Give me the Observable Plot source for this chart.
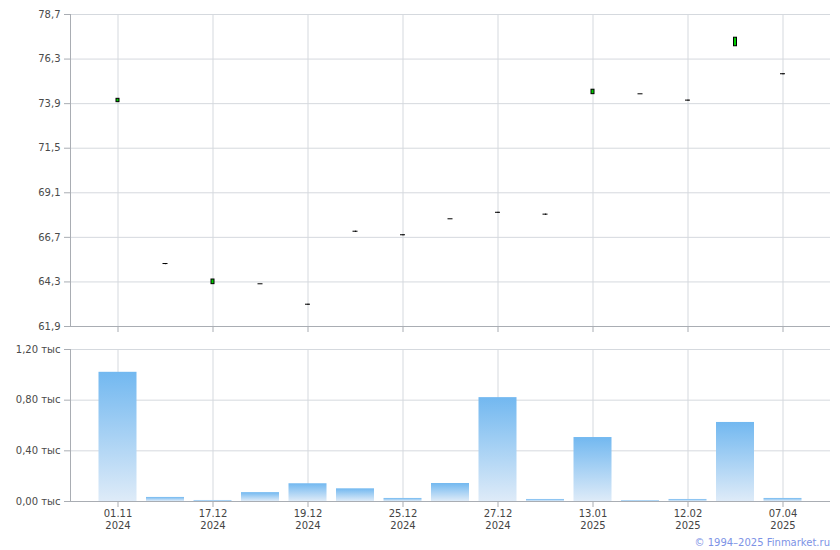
<!DOCTYPE html>
<html><head><meta charset="utf-8">
<script src="https://cdn.jsdelivr.net/npm/d3@7"></script>
<script src="https://cdn.jsdelivr.net/npm/@observablehq/plot@0.6"></script>
<style>
body{margin:0;background:#fff;}
#wrap{position:relative;width:840px;height:550px;font-family:"DejaVu Sans",sans-serif;overflow:hidden;}
#wrap svg{display:block;}
#copy{position:absolute;right:10px;top:536px;font-size:10px;line-height:14px;color:#7d93e6;}
</style></head><body><div id="wrap"><div id="copy">© 1994–2025 Finmarket.ru</div></div>
<script>
const dates = ["01.11.2024","12.12.2024","17.12.2024","18.12.2024","19.12.2024","20.12.2024","25.12.2024","26.12.2024","27.12.2024","09.01.2025","13.01.2025","27.01.2025","12.02.2025","07.03.2025","07.04.2025"];
const shownDates = ["01.11.2024","17.12.2024","19.12.2024","25.12.2024","27.12.2024","13.01.2025","12.02.2025","07.04.2025"];
const openP  = [73.98, 65.29, 64.18, 64.20, 63.10, 67.03, 66.84, 67.70, 68.05, 67.95, 74.41, 74.43, 74.09, 76.99, 75.51];
const closeP = [74.16, 65.29, 64.43, 64.20, 63.10, 67.03, 66.84, 67.70, 68.05, 67.95, 74.65, 74.43, 74.09, 77.45, 75.51];
const highP  = [74.16, 65.29, 64.43, 64.20, 63.10, 67.03, 66.84, 67.70, 68.05, 67.95, 74.65, 74.43, 74.09, 77.45, 75.51];
const lowP   = [73.98, 65.23, 64.18, 64.20, 63.04, 66.97, 66.78, 67.70, 67.99, 67.89, 74.41, 74.43, 74.03, 76.99, 75.45];
const volume = [1.02, 0.032, 0.008, 0.07, 0.14, 0.10, 0.024, 0.142, 0.82, 0.016, 0.505, 0.006, 0.016, 0.624, 0.024];
const priceTicks = [61.9, 64.3, 66.7, 69.1, 71.5, 73.9, 76.3, 78.7];
const volTicks = [0, 0.4, 0.8, 1.2];

const candles = dates.map((d, i) => ({date: d, open: openP[i], close: closeP[i], high: highP[i], low: lowP[i]}));
const vols = dates.map((d, i) => ({date: d, vol: volume[i]}));

const GRID = "#d5d9de", AXIS = "#a9adb3", TXT = "#4a4a4a";
const ns = "http://www.w3.org/2000/svg";
const xScale = {type: "band", domain: dates, paddingInner: 0.2, paddingOuter: 0.6, round: false, label: null};
const font = {fontFamily: '"DejaVu Sans",sans-serif', fontSize: "10px", overflow: "visible", background: "white"};

function leftLine(index, scales, values, dims) {
  const l = document.createElementNS(ns, "line");
  const x = dims.marginLeft + 0.5;
  l.setAttribute("x1", x); l.setAttribute("x2", x);
  l.setAttribute("y1", dims.marginTop); l.setAttribute("y2", dims.height - dims.marginBottom);
  l.setAttribute("stroke", AXIS);
  return l;
}
function gradientDefs() {
  const defs = document.createElementNS(ns, "defs");
  const g = document.createElementNS(ns, "linearGradient");
  g.setAttribute("id", "volgrad"); g.setAttribute("x1", "0"); g.setAttribute("y1", "0"); g.setAttribute("x2", "0"); g.setAttribute("y2", "1");
  [["0%", "#72b8f0"], ["100%", "#deebf8"]].forEach(([o, c]) => {
    const s = document.createElementNS(ns, "stop");
    s.setAttribute("offset", o); s.setAttribute("stop-color", c); g.appendChild(s);
  });
  defs.appendChild(g);
  return defs;
}

const priceChart = Plot.plot({
  width: 840, height: 340,
  marginLeft: 70, marginRight: 10, marginTop: 14, marginBottom: 14,
  style: font,
  x: xScale,
  y: {domain: [61.9, 78.7], label: null},
  marks: [
    Plot.gridY(priceTicks, {stroke: GRID, strokeOpacity: 1}),
    Plot.gridX(shownDates, {stroke: GRID, strokeOpacity: 1}),
    Plot.ruleY([61.9], {stroke: AXIS}),
    leftLine,
    Plot.axisY(priceTicks, {tickSize: 6, tickPadding: 4, stroke: AXIS, fill: TXT, tickFormat: d => d.toFixed(1).replace(".", ","), label: null}),
    Plot.axisX(shownDates, {tickSize: 6, stroke: AXIS, tickFormat: () => "", label: null}),
    Plot.ruleX(candles, {x: "date", y1: "low", y2: "high", stroke: "black"}),
    Plot.barY(candles.filter(c => c.open !== c.close), {x: "date", y1: "open", y2: "close", fill: d => d.close > d.open ? "#00cc00" : "#e00000", stroke: "black", insetLeft: 17.5, insetRight: 17.5}),
    Plot.tickY(candles.filter(c => c.open === c.close), {x: "date", y: "close", stroke: "black", insetLeft: 16.5, insetRight: 16.5})
  ]
});

const volumeChart = Plot.plot({
  width: 840, height: 210,
  marginLeft: 70, marginRight: 10, marginTop: 9, marginBottom: 49,
  style: font,
  x: xScale,
  y: {domain: [0, 1.2], label: null},
  marks: [
    gradientDefs,
    Plot.gridY(volTicks, {stroke: GRID, strokeOpacity: 1}),
    Plot.gridX(shownDates, {stroke: GRID, strokeOpacity: 1}),
    Plot.barY(vols, {x: "date", y: "vol", fill: "url(#volgrad)"}),
    Plot.ruleY([0], {stroke: AXIS}),
    leftLine,
    Plot.axisY(volTicks, {tickSize: 6, tickPadding: 4, stroke: AXIS, fill: TXT, tickFormat: d => d.toFixed(2).replace(".", ",") + " тыс", label: null}),
    Plot.axisX(shownDates, {tickSize: 6, tickPadding: 1, stroke: AXIS, fill: "#444", lineHeight: 1.2, tickFormat: d => d.slice(0, 5) + "\n" + d.slice(6), label: null})
  ]
});

const wrap = document.getElementById("wrap");
wrap.insertBefore(volumeChart, wrap.firstChild);
wrap.insertBefore(priceChart, wrap.firstChild);
</script>
</body></html>
